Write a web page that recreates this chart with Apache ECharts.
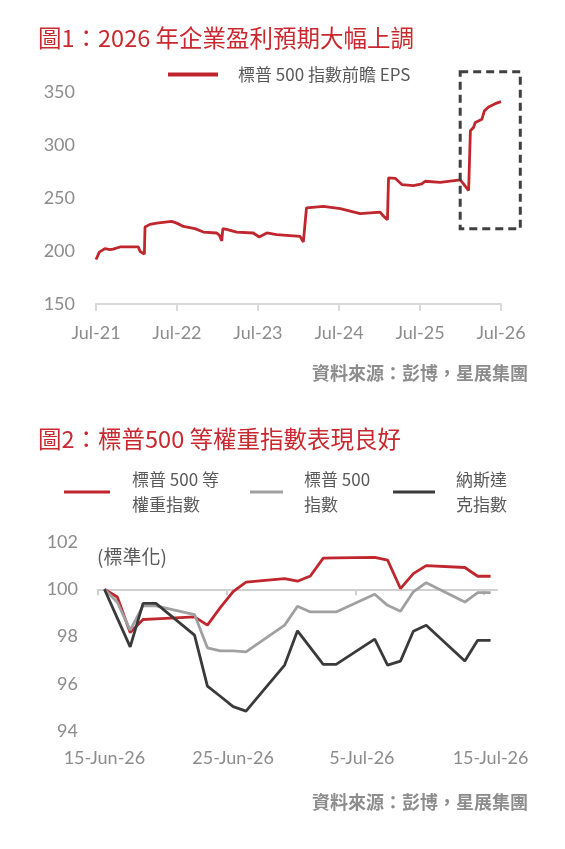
<!DOCTYPE html>
<html>
<head>
<meta charset="utf-8">
<script src="https://cdn.jsdelivr.net/npm/echarts@6/dist/echarts.min.js"></script>
<style>
html, body { margin: 0; padding: 0; background: #fff; }
#chart { width: 565px; height: 849px; }
</style>
</head>
<body>
<div id="chart"></div>
<script>
// 圖1：標普500指數前瞻EPS（讀圖估算）
const epsDates = [
    '2021-07-01', '2021-07-16', '2021-08-10', '2021-09-02', '2021-09-16', '2021-10-17',
    '2022-01-08', '2022-01-16', '2022-02-04', '2022-02-07', '2022-03-01', '2022-04-01',
    '2022-06-07', '2022-06-30', '2022-07-30', '2022-09-20', '2022-10-28', '2022-12-27',
    '2023-01-08', '2023-01-19', '2023-01-24', '2023-02-10', '2023-03-27', '2023-06-10',
    '2023-07-07', '2023-08-10', '2023-09-24', '2023-11-08', '2024-01-07', '2024-01-22',
    '2024-02-05', '2024-04-21', '2024-07-06', '2024-10-04', '2025-01-02', '2025-01-14',
    '2025-02-04', '2025-02-09', '2025-03-11', '2025-04-10', '2025-06-01', '2025-07-09',
    '2025-07-24', '2025-09-30', '2025-12-29', '2026-01-13', '2026-02-05', '2026-02-13',
    '2026-02-27', '2026-03-07', '2026-04-06', '2026-04-17', '2026-05-06', '2026-06-05',
    '2026-07-01'
];
const epsValues = [
    192.0, 199.0, 202.3, 201.3, 201.8, 203.8,
    203.8, 199.5, 197.0, 222.6, 225.1, 226.3,
    227.9, 226.3, 223.2, 221.1, 217.9, 217.0,
    214.8, 209.5, 221.1, 220.4, 217.9, 217.0,
    213.2, 217.0, 215.4, 214.8, 213.8, 208.5,
    240.6, 242.0, 239.9, 235.2, 236.7, 233.6,
    229.5, 269.0, 268.6, 262.7, 261.7, 263.3,
    265.8, 264.8, 267.1, 263.3, 257.0, 313.4,
    316.5, 321.2, 324.4, 332.2, 335.9, 339.0,
    340.9
];
const epsTickDates = ['2021-07-01', '2022-07-01', '2023-07-01', '2024-07-01', '2025-07-01', '2026-07-01'];
// 虛線框（數據座標）
const boxCorners = [['2025-12-29', 221], ['2026-09-26', 369]];

// 圖2：標準化指數（交易日）
const dayDates = [
    '2026-06-15', '2026-06-16', '2026-06-17', '2026-06-18', '2026-06-19',
    '2026-06-22', '2026-06-23', '2026-06-24', '2026-06-25', '2026-06-26',
    '2026-06-29', '2026-06-30', '2026-07-01', '2026-07-02', '2026-07-03',
    '2026-07-06', '2026-07-07', '2026-07-08', '2026-07-09', '2026-07-10',
    '2026-07-13', '2026-07-14', '2026-07-15'
];
const ewValues = [
    100, 99.67, 98.17, 98.72, 98.75,
    98.83, 98.48, 99.22, 99.9, 100.3,
    100.45, 100.34, 100.56, 101.32, 101.33,
    101.35, 101.23, 100.03, 100.66, 101.0,
    100.92, 100.55, 100.55
];
const spxValues = [
    100, 99.45, 98.27, 99.3, 99.3,
    98.93, 97.52, 97.39, 97.39, 97.35,
    98.48, 99.28, 99.04, 99.04, 99.04,
    99.79, 99.32, 99.07, 99.89, 100.28,
    99.46, 99.86, 99.86
];
const ndxValues = [
    100, 98.78, 97.56, 99.4, 99.4,
    98.06, 95.9, 95.47, 95.03, 94.84,
    96.79, 98.24, 97.53, 96.82, 96.82,
    97.89, 96.79, 96.96, 98.22, 98.48,
    96.96, 97.84, 97.84
];
const dayLabelDates = ['2026-06-15', '2026-06-25', '2026-07-05', '2026-07-15'];

const seriesNames = ['標普 500 指數前瞻 EPS', '標普 500 等\n權重指數', '標普 500\n指數', '納斯達\n克指數'];
const RED = '#c0262d';
const GREY = '#a0a0a0';
const DARK = '#3a3a3a';
const LABEL = '#8c8c8c';
const NUM_FONT = 'Lato, "Noto Sans CJK TC", sans-serif';
const CJK_FONT = '"Noto Sans CJK TC", sans-serif';
const MONTHS = ['Jan', 'Feb', 'Mar', 'Apr', 'May', 'Jun', 'Jul', 'Aug', 'Sep', 'Oct', 'Nov', 'Dec'];
const HALF_DAY = 12 * 3600 * 1000;

const ts = (s) => {
    const p = s.split('-').map(Number);
    return new Date(p[0], p[1] - 1, p[2]).getTime();
};
const pairs = (dates, values) => dates.map((d, i) => [ts(d), values[i]]);

const grid2Height = 189;
const y2Min = 94, y2Max = 102;

const chart = echarts.init(document.getElementById('chart'));

const axisLabelStyle = { color: LABEL, fontSize: 18, fontFamily: NUM_FONT };

const option = {
    backgroundColor: '#fff',
    animation: false,
    grid: [
        { left: 96, right: 64, top: 92, height: 212 },
        { left: 98, right: 68, top: 542, height: grid2Height }
    ],
    xAxis: [
        {
            gridIndex: 0,
            type: 'value',
            min: ts(epsTickDates[0]),
            max: ts(epsTickDates[epsTickDates.length - 1]),
            splitLine: { show: false },
            axisLine: { onZero: false, lineStyle: { color: '#d9d9d9', width: 2 } },
            axisTick: {
                show: true, length: 7,
                customValues: epsTickDates.map(ts),
                lineStyle: { color: '#d9d9d9', width: 2 }
            },
            axisLabel: Object.assign({
                margin: 20,
                showMinLabel: true, showMaxLabel: true,
                customValues: epsTickDates.map(ts),
                formatter: (v) => {
                    const d = new Date(v);
                    return MONTHS[d.getMonth()] + '-' + String(d.getFullYear()).slice(2);
                }
            }, axisLabelStyle)
        },
        {
            gridIndex: 1,
            type: 'value',
            position: 'bottom',
            min: ts(dayDates[0]) - HALF_DAY,
            max: ts(dayDates[dayDates.length - 1]) + HALF_DAY,
            splitLine: { show: false },
            axisLine: { show: false, onZero: false },
            axisTick: { show: false },
            axisLabel: Object.assign({
                margin: 18,
                customValues: dayLabelDates.map(ts),
                formatter: (v) => {
                    const d = new Date(v);
                    return d.getDate() + '-' + MONTHS[d.getMonth()] + '-' + String(d.getFullYear()).slice(2);
                }
            }, axisLabelStyle)
        },
        {
            // 橫軸線穿過 100
            gridIndex: 1,
            type: 'value',
            position: 'bottom',
            offset: -(100 - y2Min) / (y2Max - y2Min) * grid2Height,
            min: ts(dayDates[0]) - HALF_DAY,
            max: ts(dayDates[dayDates.length - 1]) + HALF_DAY,
            splitLine: { show: false },
            axisLine: { show: true, onZero: false, lineStyle: { color: '#d0d0d0', width: 2 } },
            axisTick: {
                show: true, length: 6,
                customValues: dayLabelDates.map((d) => ts(d) - HALF_DAY),
                lineStyle: { color: '#d0d0d0', width: 2 }
            },
            axisLabel: { show: false }
        }
    ],
    yAxis: [
        {
            gridIndex: 0,
            type: 'value',
            min: 150, max: 350, interval: 50,
            splitLine: { show: false },
            axisLine: { show: false },
            axisTick: { show: false },
            axisLabel: Object.assign({ margin: 21 }, axisLabelStyle)
        },
        {
            gridIndex: 1,
            type: 'value',
            min: y2Min, max: y2Max, interval: 2,
            splitLine: { show: false },
            axisLine: { show: false },
            axisTick: { show: false },
            axisLabel: Object.assign({ margin: 20 }, axisLabelStyle)
        }
    ],
    legend: [
        {
            data: [seriesNames[0]],
            left: 168, top: 66,
            padding: 0, selectedMode: false,
            icon: 'rect', itemWidth: 50, itemHeight: 4,
            textStyle: { color: '#595959', fontSize: 17, fontFamily: CJK_FONT, padding: [0, 0, 0, 15] }
        },
        {
            data: [seriesNames[1]],
            left: 64, top: 461,
            padding: 0, selectedMode: false,
            icon: 'rect', itemWidth: 46, itemHeight: 3,
            textStyle: { color: '#595959', fontSize: 17, lineHeight: 25, fontFamily: CJK_FONT, padding: [12, 0, 0, 17] }
        },
        {
            data: [seriesNames[2]],
            left: 250, top: 467,
            padding: 0, selectedMode: false,
            icon: 'rect', itemWidth: 33, itemHeight: 3,
            textStyle: { color: '#595959', fontSize: 17, lineHeight: 25, fontFamily: CJK_FONT, padding: [0, 0, 0, 16] }
        },
        {
            data: [seriesNames[3]],
            left: 393, top: 464,
            padding: 0, selectedMode: false,
            icon: 'rect', itemWidth: 42, itemHeight: 3,
            textStyle: { color: '#595959', fontSize: 17, lineHeight: 25, fontFamily: CJK_FONT, padding: [0, 0, 6, 16] }
        }
    ],
    series: [
        {
            name: seriesNames[0],
            type: 'line',
            xAxisIndex: 0, yAxisIndex: 0,
            data: pairs(epsDates, epsValues),
            showSymbol: false,
            itemStyle: { color: RED },
            lineStyle: { color: RED, width: 2.8 }
        },
        {
            name: seriesNames[1],
            type: 'line',
            xAxisIndex: 1, yAxisIndex: 1,
            data: pairs(dayDates, ewValues),
            showSymbol: false,
            itemStyle: { color: RED },
            lineStyle: { color: RED, width: 2.8 }
        },
        {
            name: seriesNames[2],
            type: 'line',
            xAxisIndex: 1, yAxisIndex: 1,
            data: pairs(dayDates, spxValues),
            showSymbol: false,
            itemStyle: { color: GREY },
            lineStyle: { color: GREY, width: 2.8 }
        },
        {
            name: seriesNames[3],
            type: 'line',
            xAxisIndex: 1, yAxisIndex: 1,
            data: pairs(dayDates, ndxValues),
            showSymbol: false,
            itemStyle: { color: DARK },
            lineStyle: { color: DARK, width: 2.8 }
        }
    ]
};
chart.setOption(option);

// 文字與虛線框
const p1 = chart.convertToPixel({ gridIndex: 0 }, [ts(boxCorners[0][0]), boxCorners[0][1]]);
const p2 = chart.convertToPixel({ gridIndex: 0 }, [ts(boxCorners[1][0]), boxCorners[1][1]]);

const txt = (text, x, y, size, color, extra) => ({
    type: 'text', x: x, y: y,
    style: Object.assign({
        text: text, fill: color,
        font: size + 'px ' + CJK_FONT,
        verticalAlign: 'middle'
    }, extra || {})
});

chart.setOption({
    graphic: [
        txt('圖1：2026 年企業盈利預期大幅上調', 38, 38, 23.5, '#c8282e'),
        txt('資料來源：彭博，星展集團', 528, 373, 18, LABEL, { align: 'right', font: 'bold 18px ' + CJK_FONT }),
        txt('圖2：標普500 等權重指數表現良好', 38, 439, 23.5, '#c8282e'),
        txt('(標準化)', 97, 557, 19, '#595959'),
        txt('資料來源：彭博，星展集團', 528, 802, 18, LABEL, { align: 'right', font: 'bold 18px ' + CJK_FONT }),
        {
            type: 'rect',
            shape: {
                x: Math.min(p1[0], p2[0]), y: Math.min(p1[1], p2[1]),
                width: Math.abs(p2[0] - p1[0]), height: Math.abs(p2[1] - p1[1])
            },
            style: { fill: 'none', stroke: '#404040', lineWidth: 3, lineDash: [8, 5] },
            z: 10
        }
    ]
});
</script>
</body>
</html>
